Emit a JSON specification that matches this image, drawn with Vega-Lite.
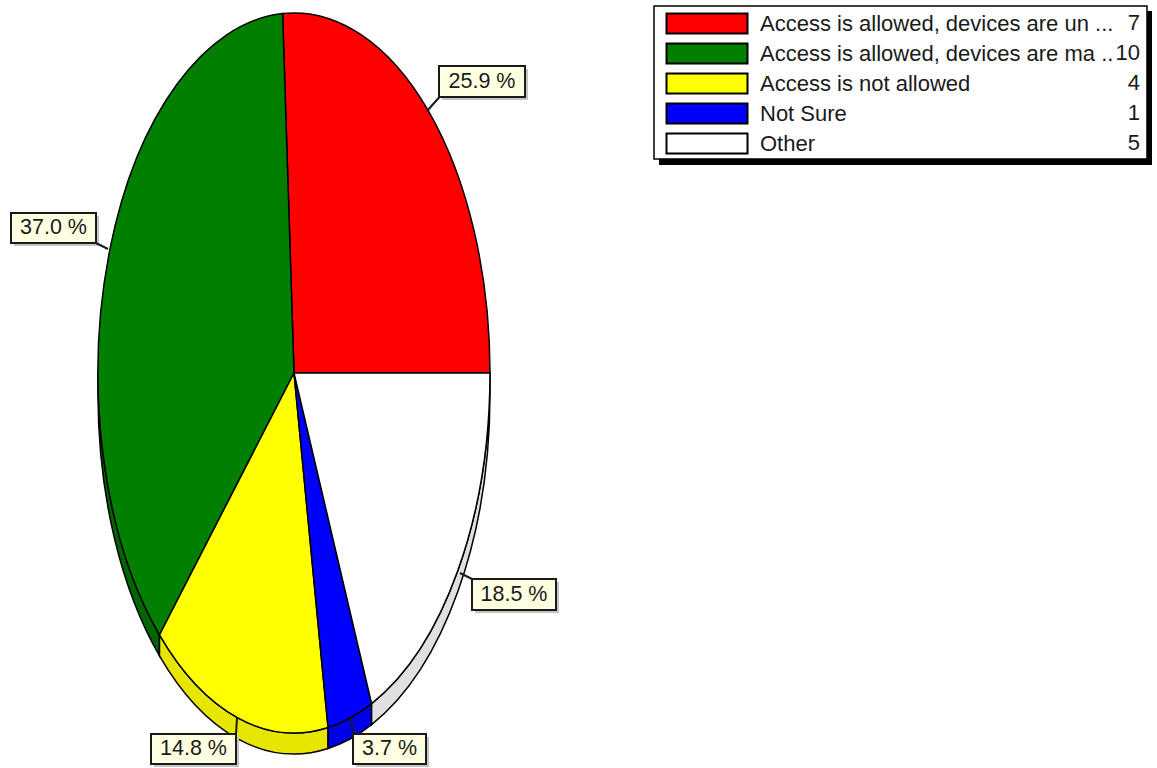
{
"$schema":"https://vega.github.io/schema/vega-lite/v6.json",
"width":1157,"height":768,"padding":0,"autosize":{"type":"none"},"background":"white",
"config":{"view":{"stroke":null}},
"datasets":{"slices":[
{"slice":"Access is allowed, devices are un ...","count":7,"share":25.9,"label":"25.9 %"},
{"slice":"Access is allowed, devices are ma ..","count":10,"share":37.0,"label":"37.0 %"},
{"slice":"Access is not allowed","count":4,"share":14.8,"label":"14.8 %"},
{"slice":"Not Sure","count":1,"share":3.7,"label":"3.7 %"},
{"slice":"Other","count":5,"share":18.5,"label":"18.5 %"}
]},
"resolve":{"scale":{"x":"independent","y":"independent","shape":"independent"}},
"layer":[
{"data":{"values":[{"part":"legend shadow"}]},
 "mark":{"type":"rect","fill":"#000000","stroke":null},
 "encoding":{"x":{"datum":659,"type":"quantitative","scale":{"domain":[0,1157],"range":[0,1157]},"axis":null},"x2":{"datum":1152},"y":{"datum":11,"type":"quantitative","scale":{"domain":[0,768],"range":[0,768]},"axis":null},"y2":{"datum":165}}},
{"data":{"values":[{"part":"legend frame"}]},
 "mark":{"type":"rect","fill":"#ffffff","stroke":"#000000","strokeWidth":1.5},
 "encoding":{"x":{"datum":654,"type":"quantitative","scale":{"domain":[0,1157],"range":[0,1157]},"axis":null},"x2":{"datum":1147},"y":{"datum":6,"type":"quantitative","scale":{"domain":[0,768],"range":[0,768]},"axis":null},"y2":{"datum":159}}},
{"data":{"name":"slices"},
 "transform":[{"filter":"datum.slice !== 'Access is allowed, devices are un ...'"}],
 "mark":{"type":"point","filled":true,"opacity":1,"size":4,"stroke":"#000000","strokeWidth":1.5},
 "encoding":{
  "x":{"datum":0,"type":"quantitative","scale":{"domain":[-294,863],"range":[0,1157]},"axis":null},
  "y":{"datum":0,"type":"quantitative","scale":{"domain":[-373,395],"range":[0,768]},"axis":null},
  "fill":{"condition":[{"test":"datum.slice === 'Access is allowed, devices are ma ..'","value":"#006400"},{"test":"datum.slice === 'Access is not allowed'","value":"#e6e600"},{"test":"datum.slice === 'Not Sure'","value":"#0000e6"}],"value":"#e0e0e0"},
  "shape":{"field":"slice","type":"nominal","legend":null,"scale":{"domain":["Access is allowed, devices are ma ..","Access is not allowed","Not Sure","Other"],"range":[
   "M-196,0A196,360 0 0 0 -134.5,261.9L-134.5,282.9A196,360 0 0 1 -196,21Z",
   "M-134.5,261.9A196,360 0 0 0 34.04,354.5L34.04,375.5A196,360 0 0 1 -134.5,282.9Z",
   "M34.04,354.5A196,360 0 0 0 77.6,330.6L77.6,351.6A196,360 0 0 1 34.04,375.5Z",
   "M77.6,330.6A196,360 0 0 0 196,0L196,21A196,360 0 0 1 77.6,351.6Z"]}}}},
{"data":{"name":"slices"},
 "mark":{"type":"point","filled":true,"opacity":1,"size":4,"stroke":"#000000","strokeWidth":1.5},
 "encoding":{
  "x":{"datum":0,"type":"quantitative","scale":{"domain":[-294,863],"range":[0,1157]},"axis":null},
  "y":{"datum":0,"type":"quantitative","scale":{"domain":[-373,395],"range":[0,768]},"axis":null},
  "fill":{"field":"slice","type":"nominal","scale":{"domain":["Access is allowed, devices are un ...","Access is allowed, devices are ma ..","Access is not allowed","Not Sure","Other"],"range":["#ff0000","#007f00","#ffff00","#0000ff","#ffffff"]},
   "legend":{"orient":"none","legendX":696,"legendY":12.5,"title":null,"padding":0,"symbolType":"M-4.05,-1H4.05V1H-4.05Z","symbolSize":400,"symbolStrokeColor":"#000000","symbolStrokeWidth":2,"symbolOpacity":1,"labelFont":"Liberation Sans","labelFontSize":22,"labelColor":"#1a1a1a","labelLimit":420,"labelOffset":42,"rowPadding":2}},
  "shape":{"field":"slice","type":"nominal","legend":null,"scale":{"domain":["Access is allowed, devices are un ...","Access is allowed, devices are ma ..","Access is not allowed","Not Sure","Other"],"range":[
   "M0,0L196,0A196,360 0 0 0 -11.39,-359.39Z",
   "M0,0L-11.39,-359.39A196,360 0 0 0 -134.5,261.9Z",
   "M0,0L-134.5,261.9A196,360 0 0 0 34.04,354.5Z",
   "M0,0L34.04,354.5A196,360 0 0 0 77.6,330.6Z",
   "M0,0L77.6,330.6A196,360 0 0 0 196,0Z"]}}}},
{"data":{"name":"slices"},
 "mark":{"type":"text","align":"right","baseline":"middle","font":"Liberation Sans","fontSize":22,"color":"#1a1a1a"},
 "encoding":{
  "x":{"datum":1140,"type":"quantitative","scale":{"domain":[0,1157],"range":[0,1157]},"axis":null},
  "y":{"field":"slice","type":"nominal","axis":null,"scale":{"type":"point","padding":0,"domain":["Access is allowed, devices are un ...","Access is allowed, devices are ma ..","Access is not allowed","Not Sure","Other"],"range":[23,143]}},
  "text":{"field":"count","type":"quantitative"}}},
{"data":{"name":"slices"},
 "mark":{"type":"point","filled":true,"opacity":1,"size":4,"stroke":null},
 "encoding":{
  "x":{"field":"share","type":"quantitative","axis":null,"scale":{"domain":[3.7,14.8,18.5,25.9,37.0],"range":[392.5,196.5,517,485,56.5],"zero":false,"nice":false}},
  "y":{"field":"share","type":"quantitative","axis":null,"scale":{"domain":[3.7,14.8,18.5,25.9,37.0],"range":[752,752,597.5,84.5,231],"zero":false,"nice":false}},
  "fill":{"value":"#c4c4c4"},
  "shape":{"field":"slice","type":"nominal","legend":null,"scale":{"domain":["Access is allowed, devices are un ...","Access is allowed, devices are ma ..","Access is not allowed","Not Sure","Other"],"range":[
   "M-43,-15.5H43V15.5H-43Z","M-42.5,-15H42.5V15H-42.5Z","M-42.5,-15H42.5V15H-42.5Z","M-36.5,-15H36.5V15H-36.5Z","M-42,-15.5H42V15.5H-42Z"]}}}},
{"data":{"name":"slices"},
 "mark":{"type":"point","filled":true,"opacity":1,"size":4,"stroke":"#1a1a1a","strokeWidth":2},
 "encoding":{
  "x":{"field":"share","type":"quantitative","axis":null,"scale":{"domain":[3.7,14.8,18.5,25.9,37.0],"range":[389.5,193.5,514,482,53.5],"zero":false,"nice":false}},
  "y":{"field":"share","type":"quantitative","axis":null,"scale":{"domain":[3.7,14.8,18.5,25.9,37.0],"range":[749,749,594.5,81.5,228],"zero":false,"nice":false}},
  "fill":{"value":"#ffffe1"},
  "shape":{"field":"slice","type":"nominal","legend":null,"scale":{"domain":["Access is allowed, devices are un ...","Access is allowed, devices are ma ..","Access is not allowed","Not Sure","Other"],"range":[
   "M-43,-15.5H43V15.5H-43ZM-42.5,15.5L-55,29.5",
   "M-42.5,-15H42.5V15H-42.5ZM42.5,15L54.5,21",
   "M-42.5,-15H42.5V15H-42.5ZM42.5,-15L43.5,-31",
   "M-36.5,-15H36.5V15H-36.5ZM-36.5,-15L-38.5,-32",
   "M-42,-15.5H42V15.5H-42ZM-42,-15.5L-54,-21.5"]}}}},
{"data":{"name":"slices"},
 "mark":{"type":"text","align":"center","baseline":"middle","font":"Liberation Sans","fontSize":21.5,"color":"#1a1a1a"},
 "encoding":{
  "x":{"field":"share","type":"quantitative","axis":null,"scale":{"domain":[3.7,14.8,18.5,25.9,37.0],"range":[389.5,193.5,514,482,53.5],"zero":false,"nice":false}},
  "y":{"field":"share","type":"quantitative","axis":null,"scale":{"domain":[3.7,14.8,18.5,25.9,37.0],"range":[749,749,594.5,81.5,228],"zero":false,"nice":false}},
  "text":{"field":"label","type":"nominal"}}}
]}
